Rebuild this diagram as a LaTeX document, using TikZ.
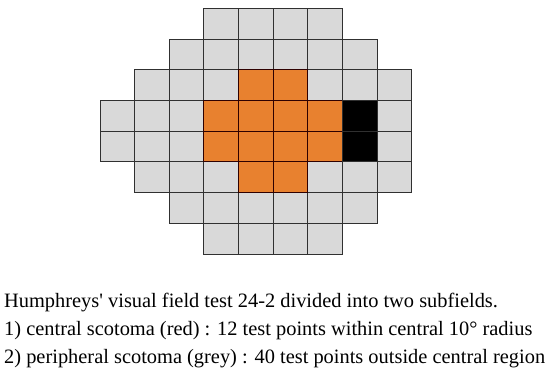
\documentclass[tikz,border=0pt]{standalone}
\usepackage{fontspec}
\setmainfont{Liberation Serif}[Ligatures=TeXOff]
\definecolor{cellgrey}{HTML}{D9D9D9}
\definecolor{cellorange}{HTML}{E8812F}
\definecolor{gridline}{HTML}{303030}
\tikzset{
  cell/.style={draw=gridline, line width=0.9pt, minimum width=34.63pt, minimum height=30.71pt, inner sep=0pt, outer sep=0pt, anchor=north west},
  greycell/.style={cell, fill=cellgrey},
  orangecell/.style={cell, fill=cellorange, draw=black!70!red!60!black},
  blackcell/.style={cell, fill=black},
  caption/.style={anchor=base west, inner sep=0pt, font=\fontsize{20.4}{24}\selectfont}
}
\begin{document}
\begin{tikzpicture}[x=1pt,y=-1pt]
\useasboundingbox[fill=white] (0,0) rectangle (550,382);
% rows: first column, last column
\foreach \r/\a/\b in {0/3/6,1/2/7,2/1/8,3/0/8,4/0/8,5/1/8,6/2/7,7/3/6}{
  \foreach \c in {\a,...,\b}{
    \node[greycell] (c-\r-\c) at ({100+\c*34.63},{8.3+\r*30.71}) {};
  }
}
\foreach \r/\c in {2/4,2/5,3/3,3/4,3/5,3/6,4/3,4/4,4/5,4/6,5/4,5/5}{
  \node[orangecell] (o-\r-\c) at ({100+\c*34.63},{8.3+\r*30.71}) {};
}
\foreach \r in {3,4}{
  \node[blackcell] (b-\r) at ({100+7*34.63},{8.3+\r*30.71}) {};
}
\node[caption] (t1) at (4,307.5) {Humphreys' visual field test 24-2 divided into two subfields.};
\node[caption] (t2) at (4,336) {1) central scotoma (red) : 12 test points within central 10° radius};
\node[caption] (t3) at (4,364) {2) peripheral scotoma (grey) : 40 test points outside central region};
\end{tikzpicture}
\end{document}
